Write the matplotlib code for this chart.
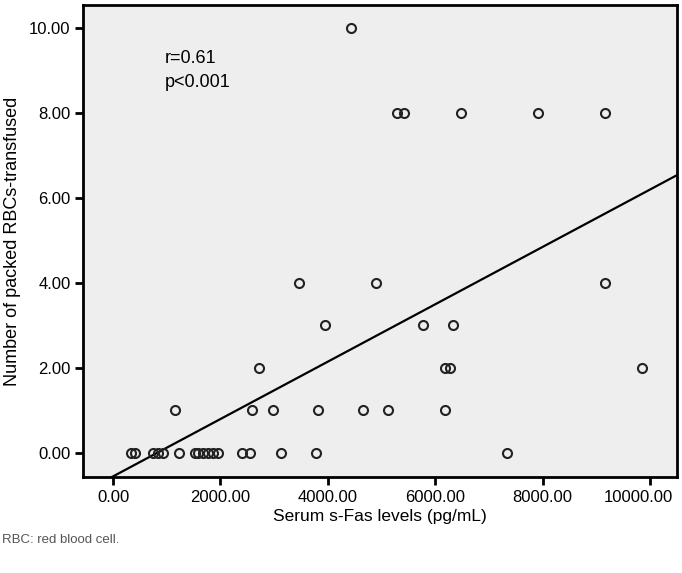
import matplotlib
matplotlib.use('Agg')
import matplotlib.pyplot as plt
import matplotlib.transforms as mtransforms
import numpy as np

plt.rcParams['font.family'] = ['Liberation Sans', 'DejaVu Sans']

# serum s-Fas (pg/mL) grouped by number of transfused units
x0 = [330, 410, 745, 838, 931, 1229, 1527, 1583, 1676, 1769, 1862, 1955, 2402, 2551, 3128, 3780, 7337]
x1 = [1155, 2588, 2980, 3818, 4655, 5121, 6182]
x2 = [2719, 6182, 6276, 9851]
x3 = [3948, 5773, 6331]
x4 = [3464, 4898, 9162]
x8 = [5289, 5419, 6480, 7914, 9162]
x10 = [4432]

sfas = np.array(x0 + x1 + x2 + x3 + x4 + x8 + x10, dtype=float)
units = np.array([0] * len(x0) + [1] * len(x1) + [2] * len(x2) + [3] * len(x3)
                 + [4] * len(x4) + [8] * len(x8) + [10] * len(x10), dtype=float)

# fit line
intercept = -0.55
slope = 0.000675

x_ticks = [0, 2000, 4000, 6000, 8000, 10000]
y_ticks = [0, 2, 4, 6, 8, 10]

fig = plt.figure(figsize=(6.82, 5.73), dpi=100)
ax = fig.add_axes([0.1217, 0.1675, 0.871, 0.8238])
ax.set_facecolor('#eeeeee')

xl = (-560, 10500)
ax.plot(xl, [intercept + slope * v for v in xl], color='black', lw=1.6, zorder=2)
ax.plot(sfas, units, 'o', mfc='none', mec='#222222', mew=1.5, ms=6.5, zorder=3)

ax.set_xlim(*xl)
ax.set_ylim(-0.565, 10.54)
ax.set_xticks(x_ticks)
ax.set_xticklabels(['%.2f' % v for v in x_ticks])
ax.set_yticks(y_ticks)
ax.set_yticklabels(['%.2f' % v for v in y_ticks])

for s in ax.spines.values():
    s.set_linewidth(2)
ax.tick_params(direction='out', length=6, width=2, labelsize=12, colors='black', pad=3)

# last x label pulled in so it stays inside the figure
last = ax.get_xticklabels()[-1]
last.set_transform(last.get_transform() +
                   mtransforms.ScaledTranslation(-12 / 100, 0, fig.dpi_scale_trans))

ax.set_xlabel('Serum s-Fas levels (pg/mL)', fontsize=12.5, labelpad=3)
ax.set_ylabel('Number of packed RBCs-transfused', fontsize=13, labelpad=6)

ax.text(0.138, 0.905, 'r=0.61\np<0.001', transform=ax.transAxes, fontsize=13,
        va='top', ha='left', linespacing=1.55)

fig.text(0.003, 0.052, 'RBC: red blood cell.', fontsize=9.5, color='#555555')

fig.savefig('out.png', dpi=100)
